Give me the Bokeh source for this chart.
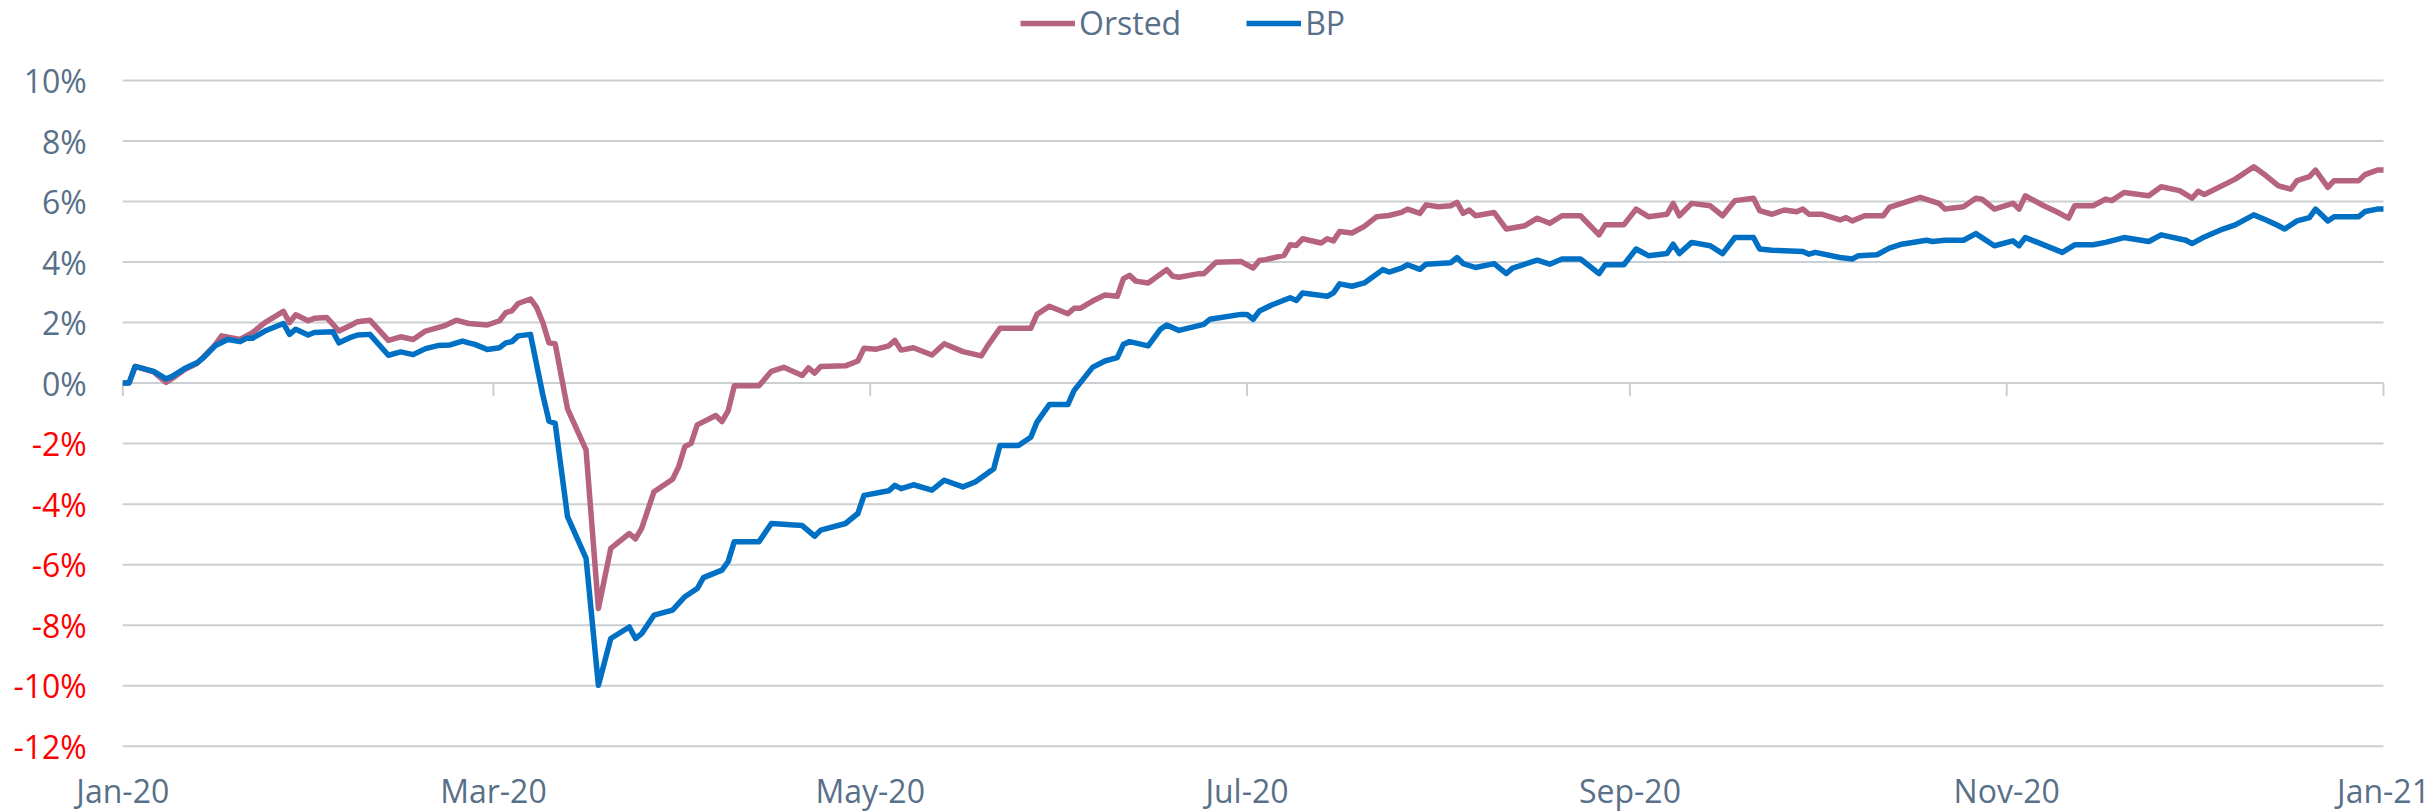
import pandas as pd
from bokeh.plotting import figure
from bokeh.models import Range1d, Label, Legend, LegendItem
from bokeh.embed import file_html
from bokeh.resources import INLINE

START = "2020-01-01"

orsted_day = [0, 1, 2, 5, 7, 8, 10, 12, 13, 15, 16, 19, 21, 23, 26, 27, 28, 30, 31, 33,
              35, 37, 38, 40, 43, 45, 47, 49, 51, 52, 54, 56, 59, 61, 62, 63, 64, 66, 67, 68,
              69, 70, 72, 75, 77, 79, 82, 83, 84, 86, 89, 90, 91, 92, 93, 96, 97, 98, 99, 103,
              105, 107, 110, 111, 112, 113, 117, 119, 120, 122, 124, 125, 126, 128, 131, 133, 136, 139, 140, 142,
              147, 148, 150, 153, 154, 155, 157, 159, 161, 162, 163, 164, 166, 169, 170, 171, 174, 175, 177, 181,
              183, 184, 185, 188, 189, 190, 191, 194, 195, 196, 197, 199, 201, 203, 205, 207, 208, 210, 211, 213,
              215, 216, 217, 218, 219, 222, 224, 227, 229, 231, 233, 236, 239, 240, 243, 245, 247, 250, 251, 252,
              254, 257, 259, 261, 264, 265, 267, 269, 271, 272, 273, 275, 278, 279, 280, 282, 285, 286, 288, 291,
              294, 295, 298, 300, 301, 303, 306, 307, 308, 311, 313, 315, 316, 319, 321, 322, 324, 328, 330, 333,
              335, 336, 337, 342, 345, 347, 349, 351, 352, 354, 355, 357, 358, 362, 363, 365, 366]
orsted_pct = [0.00, 0.00, 0.55, 0.37, 0.02, 0.15, 0.45, 0.65, 0.85, 1.28, 1.56, 1.44, 1.67, 2.00, 2.37, 2.00, 2.26, 2.06, 2.14, 2.17,
              1.72, 1.92, 2.03, 2.08, 1.41, 1.53, 1.44, 1.72, 1.83, 1.89, 2.08, 1.97, 1.92, 2.06, 2.33, 2.39, 2.63, 2.78, 2.50, 2.00,
              1.33, 1.30, -0.85, -2.21, -7.45, -5.46, -4.97, -5.15, -4.80, -3.59, -3.18, -2.76, -2.10, -1.99, -1.38, -1.07, -1.27, -0.92, -0.09, -0.09,
              0.39, 0.52, 0.25, 0.50, 0.33, 0.55, 0.57, 0.73, 1.15, 1.12, 1.23, 1.41, 1.09, 1.17, 0.93, 1.30, 1.04, 0.90, 1.23, 1.81,
              1.81, 2.27, 2.54, 2.29, 2.47, 2.47, 2.71, 2.91, 2.87, 3.45, 3.56, 3.37, 3.31, 3.75, 3.53, 3.50, 3.61, 3.61, 3.99, 4.02,
              3.80, 4.05, 4.08, 4.22, 4.57, 4.55, 4.77, 4.63, 4.77, 4.70, 5.01, 4.96, 5.18, 5.50, 5.54, 5.64, 5.75, 5.61, 5.89, 5.83,
              5.86, 5.97, 5.61, 5.72, 5.53, 5.64, 5.09, 5.20, 5.45, 5.28, 5.53, 5.53, 4.90, 5.23, 5.23, 5.75, 5.50, 5.58, 5.94, 5.53,
              5.94, 5.86, 5.53, 6.03, 6.11, 5.70, 5.58, 5.72, 5.66, 5.75, 5.58, 5.58, 5.39, 5.47, 5.36, 5.53, 5.53, 5.81, 5.94, 6.14,
              5.94, 5.75, 5.83, 6.11, 6.08, 5.75, 5.94, 5.75, 6.19, 5.86, 5.67, 5.45, 5.86, 5.86, 6.08, 6.03, 6.30, 6.19, 6.49, 6.36,
              6.11, 6.34, 6.23, 6.74, 7.15, 6.85, 6.52, 6.41, 6.69, 6.82, 7.04, 6.47, 6.69, 6.69, 6.89, 7.04, 7.04]

bp_day = [0, 1, 2, 5, 7, 8, 10, 12, 13, 15, 17, 19, 20, 21, 23, 26, 27, 28, 30, 31,
          34, 35, 37, 38, 40, 43, 45, 47, 49, 51, 53, 55, 56, 57, 59, 61, 62, 63, 64, 66,
          68, 69, 70, 72, 75, 77, 79, 82, 83, 84, 86, 89, 91, 93, 94, 97, 98, 99, 103, 105,
          110, 112, 113, 117, 119, 120, 124, 125, 126, 128, 131, 133, 136, 138, 141, 142, 145, 147, 148, 150,
          153, 154, 157, 159, 161, 162, 163, 166, 168, 169, 171, 175, 176, 181, 182, 183, 184, 186, 189, 190,
          191, 195, 196, 197, 199, 201, 204, 205, 207, 208, 210, 211, 215, 216, 217, 219, 222, 224, 225, 229,
          231, 233, 236, 239, 240, 243, 245, 247, 250, 251, 252, 254, 257, 259, 261, 264, 265, 267, 272, 273,
          274, 278, 280, 281, 284, 286, 288, 292, 293, 295, 298, 300, 303, 306, 307, 308, 310, 314, 316, 319,
          321, 324, 328, 330, 334, 335, 337, 340, 342, 345, 347, 349, 350, 352, 354, 355, 357, 358, 362, 363,
          365, 366]
bp_pct = [0.00, 0.00, 0.55, 0.39, 0.14, 0.22, 0.48, 0.67, 0.83, 1.24, 1.44, 1.37, 1.48, 1.48, 1.72, 1.97, 1.61, 1.78, 1.59, 1.67,
          1.70, 1.33, 1.52, 1.59, 1.61, 0.92, 1.03, 0.94, 1.14, 1.24, 1.26, 1.39, 1.33, 1.28, 1.11, 1.17, 1.33, 1.37, 1.56, 1.61,
          -0.39, -1.26, -1.33, -4.41, -5.79, -9.99, -8.44, -8.06, -8.44, -8.28, -7.67, -7.50, -7.06, -6.79, -6.43, -6.18, -5.90, -5.24, -5.24, -4.64,
          -4.71, -5.06, -4.86, -4.64, -4.31, -3.71, -3.56, -3.38, -3.49, -3.36, -3.54, -3.21, -3.43, -3.27, -2.83, -2.06, -2.06, -1.79, -1.29, -0.71,
          -0.71, -0.25, 0.52, 0.73, 0.84, 1.28, 1.37, 1.23, 1.78, 1.92, 1.74, 1.94, 2.11, 2.27, 2.27, 2.11, 2.38, 2.58, 2.82, 2.73,
          2.98, 2.87, 2.98, 3.28, 3.20, 3.31, 3.75, 3.67, 3.80, 3.91, 3.76, 3.93, 3.98, 4.15, 3.95, 3.82, 3.95, 3.62, 3.80, 4.06,
          3.93, 4.10, 4.10, 3.62, 3.91, 3.91, 4.43, 4.21, 4.28, 4.59, 4.28, 4.65, 4.54, 4.28, 4.81, 4.81, 4.43, 4.39, 4.35, 4.26,
          4.32, 4.15, 4.10, 4.21, 4.24, 4.46, 4.59, 4.72, 4.68, 4.72, 4.72, 4.94, 4.54, 4.70, 4.54, 4.81, 4.65, 4.32, 4.57, 4.57,
          4.65, 4.81, 4.68, 4.90, 4.72, 4.61, 4.83, 5.09, 5.23, 5.56, 5.39, 5.20, 5.09, 5.36, 5.47, 5.75, 5.36, 5.50, 5.50, 5.67,
          5.75, 5.75]

y_ticks = [-12, -10, -8, -6, -4, -2, 0, 2, 4, 6, 8, 10]
y_tick_labels = ["-12%", "-10%", "-8%", "-6%", "-4%", "-2%", "0%", "2%", "4%", "6%", "8%", "10%"]
x_tick_dates = ["2020-01-01", "2020-03-01", "2020-05-01", "2020-07-01", "2020-09-01", "2020-11-01", "2021-01-01"]
x_tick_labels = ["Jan-20", "Mar-20", "May-20", "Jul-20", "Sep-20", "Nov-20", "Jan-21"]

# ---- styling / layout (pixels of the 2432x812 canvas) ----
W, H = 2432, 812
PLOT_L, PLOT_R, PLOT_T, PLOT_B = 122.3, 2383.0, 80.0, 745.7
ORSTED_COLOR = "#B5637F"
BP_COLOR = "#0070C4"
TEXT_COLOR = "#587088"
NEG_COLOR = "#FF0000"
GRID_COLOR = "#CBCFD3"
FONT = "Open Sans"
FSIZE = "32px"


def to_dt(days):
    return pd.Timestamp(START) + pd.to_timedelta(days, unit="D")


def to_ms(ts):
    return pd.Timestamp(ts).value / 1e6


orsted_x = [to_dt(d) for d in orsted_day]
bp_x = [to_dt(d) for d in bp_day]
tick_ts = [pd.Timestamp(t) for t in x_tick_dates]

# the frame covers the whole canvas; ranges are widened so that the data
# area lands on the plot rectangle
t0, t1 = tick_ts[0], tick_ts[-1]
span = (t1 - t0)
px_per_ms = (PLOT_R - PLOT_L) / (span.total_seconds() * 1000)
x_start = to_ms(t0) - PLOT_L / px_per_ms
x_end = to_ms(t1) + (W - PLOT_R) / px_per_ms
y_lo, y_hi = y_ticks[0], y_ticks[-1]
px_per_unit = (PLOT_B - PLOT_T) / (y_hi - y_lo)
y_top = y_hi + PLOT_T / px_per_unit
y_bot = y_lo - (H - PLOT_B) / px_per_unit

p = figure(
    frame_width=W, frame_height=H, min_border=0,
    x_axis_type="datetime", x_axis_location=None, y_axis_location=None,
    output_backend="svg", toolbar_location=None,
    x_range=Range1d(x_start, x_end), y_range=Range1d(y_bot, y_top),
)
p.outline_line_color = None
p.grid.visible = False
p.background_fill_color = "white"
p.border_fill_color = "white"

# horizontal gridlines at the y ticks across the plotted period
p.segment(x0=[t0] * len(y_ticks), x1=[t1] * len(y_ticks), y0=y_ticks, y1=y_ticks,
          line_color=GRID_COLOR, line_width=2)
# tick marks hanging below the 0% line
p.ray(x=tick_ts, y=[0] * len(tick_ts), length=13, length_units="screen",
      angle=-1.5708, line_color=GRID_COLOR, line_width=2)

r_or = p.line(orsted_x, orsted_pct, line_color=ORSTED_COLOR, line_width=5.5, line_join="round")
r_bp = p.line(bp_x, bp_pct, line_color=BP_COLOR, line_width=5.5, line_join="round")

# y tick labels
for v, lab in zip(y_ticks, y_tick_labels):
    p.add_layout(Label(x=to_ms(t0), y=v, text=lab, x_offset=-36, y_offset=0,
                       text_align="right", text_baseline="middle",
                       text_color=NEG_COLOR if v < 0 else TEXT_COLOR,
                       text_font=FONT, text_font_size=FSIZE))

# x tick labels
for t, lab in zip(tick_ts, x_tick_labels):
    p.add_layout(Label(x=to_ms(t), y=y_lo, text=lab, x_offset=0, y_offset=-44,
                       text_align="center", text_baseline="middle",
                       text_color=TEXT_COLOR, text_font=FONT, text_font_size=FSIZE))

legend = Legend(items=[LegendItem(label="Orsted", renderers=[r_or]),
                       LegendItem(label="BP", renderers=[r_bp])],
                orientation="horizontal", location=(1020, H - 44),
                padding=0, margin=0, spacing=65, label_standoff=4,
                glyph_width=55, glyph_height=30,
                label_text_font=FONT, label_text_font_size=FSIZE, label_text_color=TEXT_COLOR,
                border_line_alpha=0, background_fill_alpha=0)
p.add_layout(legend)

open("out.html", "w").write(file_html(p, INLINE))
